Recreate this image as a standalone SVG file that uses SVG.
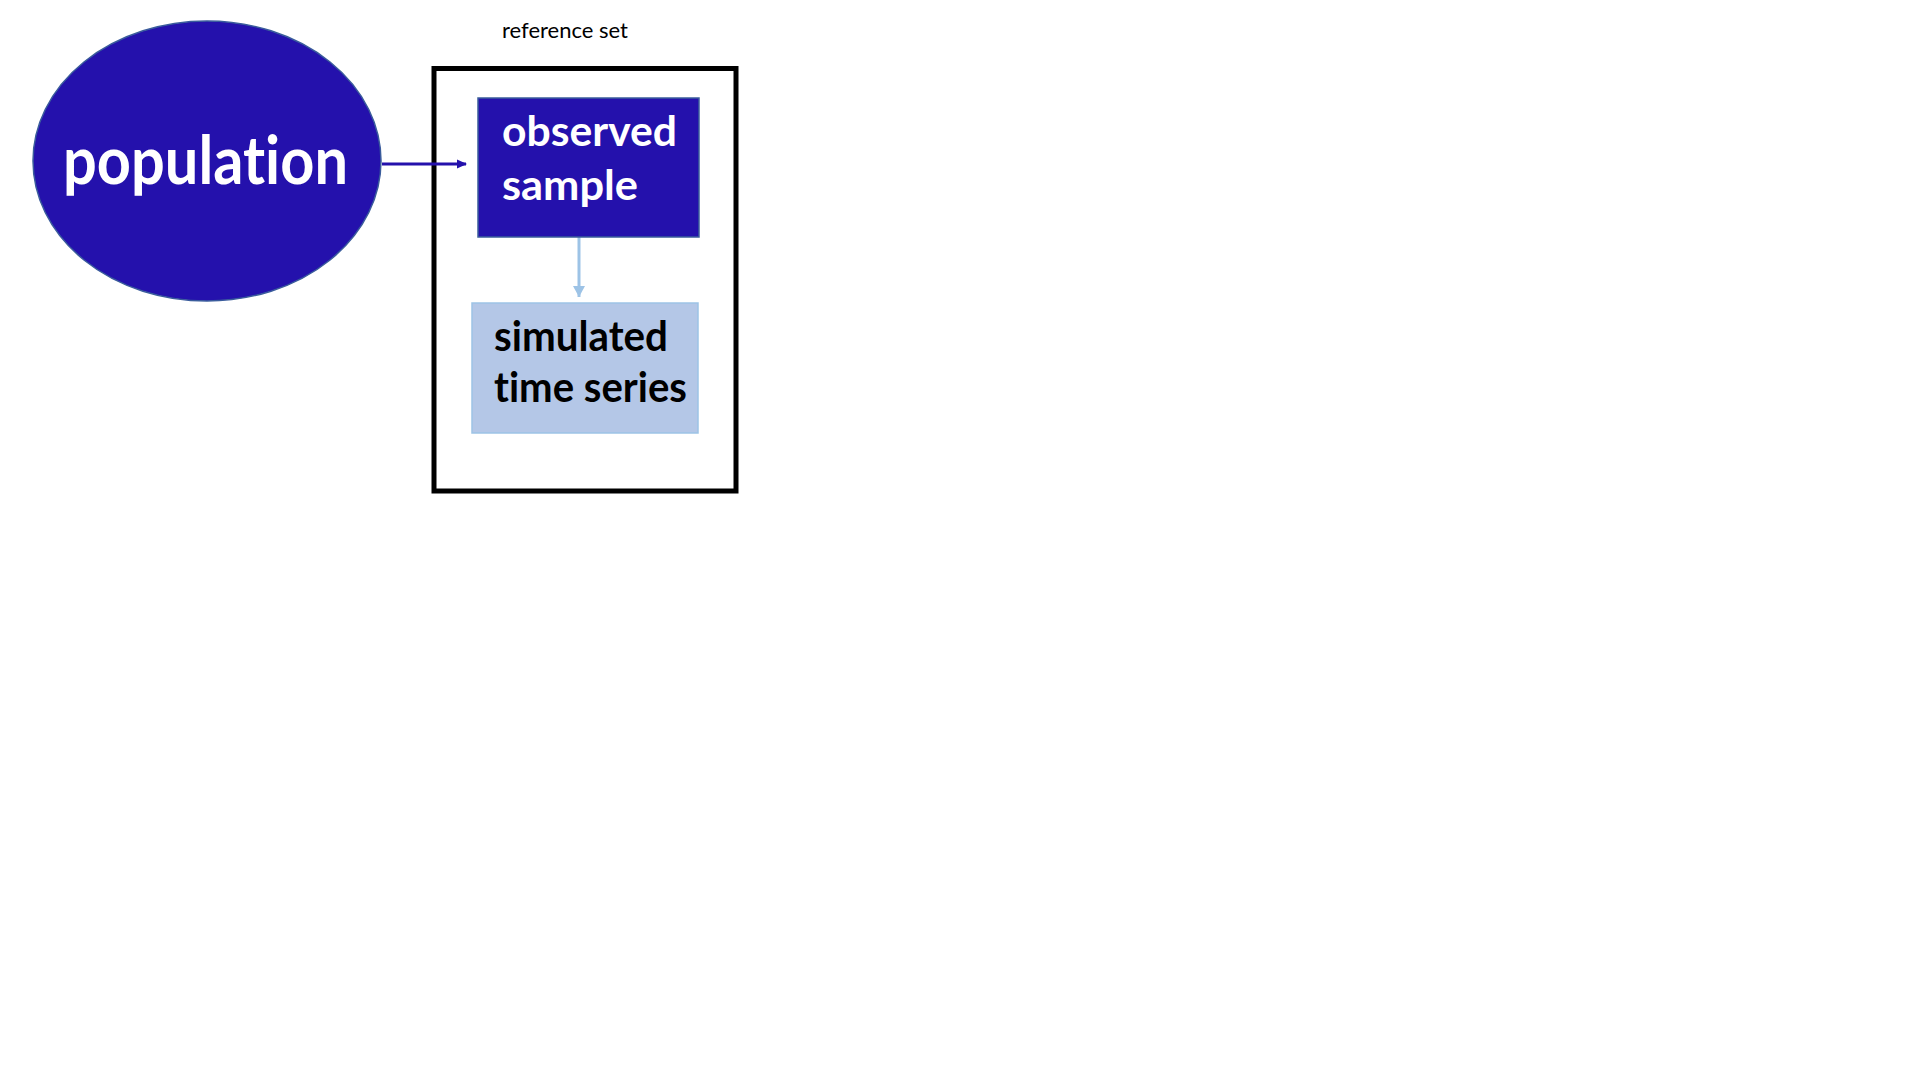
<svg xmlns="http://www.w3.org/2000/svg" width="1920" height="1080" viewBox="0 0 1920 1080">
<style>
.dark{fill:#2411AC;stroke:#3A5C9C;stroke-width:1.5}
.light{fill:#B4C7E7;stroke:#9DC3E6;stroke-width:1.5}
.big{font-family:Lato,"Open Sans","Liberation Sans",sans-serif;font-weight:bold;font-variant-ligatures:none}
.wt{fill:#ffffff}
.bk{fill:#000000}
</style>
<defs>
<marker id="ahDark" markerWidth="10" markerHeight="10" refX="9" refY="5" orient="auto" markerUnits="userSpaceOnUse">
<path d="M0,0.5 L10,5 L0,9.5 Z" fill="#2411AC"/>
</marker>
<marker id="ahLight" markerWidth="12" markerHeight="12" refX="11" refY="6" orient="auto" markerUnits="userSpaceOnUse">
<path d="M0,0 L11,6 L0,12 Z" fill="#9DC3E6"/>
</marker>
</defs>
<rect width="1920" height="1080" fill="#ffffff"/>
<g id="reference-set">
<rect x="434" y="68.5" width="302" height="422.5" fill="none" stroke="#000000" stroke-width="5"/>
<text x="565" y="38" text-anchor="middle" font-family="Lato,'Open Sans','Liberation Sans',sans-serif" font-size="21" fill="#000000" textLength="126" lengthAdjust="spacingAndGlyphs">reference set</text>
</g>
<g id="connectors">
<line x1="382" y1="164" x2="466" y2="164" stroke="#2411AC" stroke-width="3" marker-end="url(#ahDark)"/>
<line x1="579" y1="237" x2="579" y2="297" stroke="#9DC3E6" stroke-width="3" marker-end="url(#ahLight)"/>
</g>
<g id="population">
<ellipse cx="207" cy="161" rx="174" ry="140" class="dark"/>
<text x="63" y="184" class="big wt" font-size="66" textLength="285" lengthAdjust="spacingAndGlyphs">population</text>
</g>
<g id="observed-sample">
<rect x="478" y="98" width="221" height="139" class="dark"/>
<text class="big wt" font-size="42"><tspan x="502" y="146" textLength="175" lengthAdjust="spacingAndGlyphs">observed</tspan><tspan x="502" y="200" textLength="136" lengthAdjust="spacingAndGlyphs">sample</tspan></text>
</g>
<g id="simulated-time-series">
<rect x="472" y="303" width="226" height="130" class="light"/>
<text class="big bk" font-size="42"><tspan x="494" y="351" textLength="174" lengthAdjust="spacingAndGlyphs">simulated</tspan><tspan x="494" y="402" textLength="193" lengthAdjust="spacingAndGlyphs">time series</tspan></text>
</g>
</svg>
